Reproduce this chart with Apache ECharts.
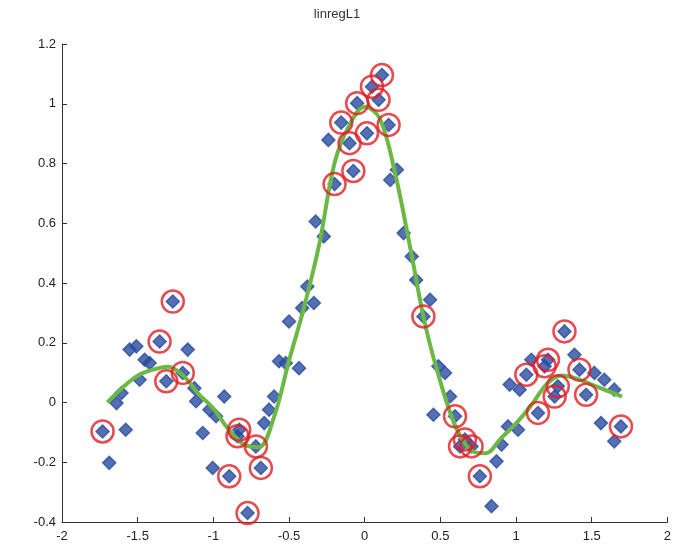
<!DOCTYPE html>
<html>
<head>
<meta charset="utf-8">
<script src="https://cdn.jsdelivr.net/npm/echarts@6/dist/echarts.min.js"></script>
<style>
html,body{margin:0;padding:0;background:#fff;}
#main{width:674px;height:551px;}
</style>
</head>
<body>
<div id="main"></div>
<script>
// sample points; ptRing = 1 where the point has a red circle
var ptX=[-1.732,-1.688,-1.579,-1.640,-1.607,-1.553,-1.509,-1.454,-1.421,-1.487,
	-1.355,-1.268,-1.311,-1.202,-1.169,-1.125,-1.114,-1.070,-1.026,-0.982,
	-0.928,-1.004,-0.895,-0.829,-0.840,-0.719,-0.686,-0.774,-0.664,-0.632,
	-0.599,-0.566,-0.522,-0.434,-0.500,-0.413,-0.336,-0.379,
	-0.240,-0.155,-0.100,-0.075,-0.199,-0.324,-0.270,-0.050,0.114,0.048,
	0.092,0.015,0.158,0.213,0.169,0.257,0.311,0.340,
	0.432,0.388,0.487,0.531,0.564,0.454,0.597,0.662,0.630,0.706,
	0.761,0.838,0.871,0.904,0.947,1.013,1.145,0.958,1.024,1.068,
	1.101,1.189,1.211,1.255,1.276,1.320,1.386,1.419,1.463,1.518,
	1.583,1.649,1.561,1.693,1.649];
var ptY=[-0.097,-0.202,-0.091,-0.002,0.032,0.177,0.188,0.143,0.132,0.076,
	0.204,0.338,0.071,0.099,0.177,0.048,0.004,-0.102,-0.024,-0.046,
	0.020,-0.219,-0.247,-0.091,-0.113,-0.147,-0.219,-0.370,-0.069,-0.024,
	0.020,0.138,0.132,0.115,0.271,0.316,0.333,0.388,
	0.879,0.937,0.868,0.775,0.731,0.606,0.556,1.002,1.096,1.057,
	1.013,0.901,0.929,0.779,0.745,0.567,0.489,0.410,
	0.344,0.288,0.121,0.099,0.020,-0.041,-0.046,-0.124,-0.147,-0.147,
	-0.247,-0.347,-0.197,-0.141,-0.080,-0.091,-0.035,0.060,0.043,0.093,
	0.143,0.121,0.143,0.020,0.054,0.238,0.160,0.110,0.026,0.099,
	0.076,0.043,-0.069,-0.080,-0.130];
var ptRing=[1,0,0,0,0,0,0,0,0,0,
	1,1,1,1,0,0,0,0,0,0,
	0,0,1,1,1,1,1,1,0,0,
	0,0,0,0,0,0,0,0,
	0,1,1,1,1,0,0,1,1,1,
	1,1,1,0,0,0,0,0,
	0,1,0,0,0,0,1,1,1,1,
	1,0,0,0,0,0,1,0,0,1,
	0,1,1,1,1,1,0,1,1,0,
	0,0,0,1,0];

// fitted curve (green)
var fitX=[-1.7,-1.6,-1.5,-1.4,-1.3,-1.2,-1.1,-1.0,-0.9,-0.8,-0.7,-0.6,-0.5,-0.4,-0.3,-0.2,-0.1,0,
	0.1,0.2,0.3,0.4,0.5,0.6,0.7,0.8,0.9,1.0,1.1,1.2,1.3,1.4,1.5,1.6,1.7];
var fitY=[0.00,0.05,0.09,0.11,0.12,0.09,0.03,-0.02,-0.09,-0.14,-0.15,-0.05,0.14,0.32,0.53,0.80,0.93,0.99,
	0.95,0.77,0.52,0.26,0.07,-0.08,-0.16,-0.17,-0.12,-0.07,-0.01,0.06,0.09,0.08,0.06,0.04,0.02];

var xTicks=[-2,2,0.5];
var yTicks=[-0.4,1.2,0.2];

var allPts=[],ringPts=[],fitPts=[];
for(var i=0;i<ptX.length;i++){
	allPts.push([ptX[i],ptY[i]]);
	if(ptRing[i]) ringPts.push([ptX[i],ptY[i]]);
}
for(var j=0;j<fitX.length;j++) fitPts.push([fitX[j],fitY[j]]);

var chart=echarts.init(document.getElementById('main'));
var axisCommon={
	axisLine:{show:true,onZero:false,lineStyle:{color:'#333',width:1}},
	axisTick:{show:true,inside:true,length:5,lineStyle:{color:'#333'}},
	axisLabel:{color:'#222',fontSize:13,fontFamily:'Liberation Sans'},
	splitLine:{show:false}
};
var option={
	animation:false,
	title:{text:'linregL1',left:'center',top:3,textStyle:{fontSize:13,fontWeight:'normal',color:'#333',fontFamily:'Liberation Sans'}},
	grid:{left:62,right:4,top:44,bottom:29,containLabel:false},
	xAxis:Object.assign({type:'value',min:xTicks[0],max:xTicks[1],interval:xTicks[2]},axisCommon),
	yAxis:Object.assign({type:'value',min:yTicks[0],max:yTicks[1],interval:yTicks[2]},axisCommon,
		{axisLabel:{color:'#222',fontSize:13,fontFamily:'Liberation Sans',margin:6}}),
	series:[
		{
			name:'data',
			type:'scatter',
			symbol:'diamond',
			symbolSize:[13,13],
			itemStyle:{color:'#2a4c9f',borderColor:'#2a4c9f',borderWidth:1.5},
			data:allPts,
			z:2
		},
		{
			name:'fit',
			type:'line',
			smooth:0.35,
			symbol:'none',
			lineStyle:{color:'#6cb845',width:4},
			data:fitPts,
			z:3
		},
		{
			name:'outliers',
			type:'scatter',
			symbol:'circle',
			symbolSize:22,
			itemStyle:{color:'rgba(0,0,0,0)',borderColor:'#e01e24',borderWidth:2.5},
			data:ringPts,
			z:4
		}
	]
};
chart.setOption(option);
</script>
</body>
</html>
